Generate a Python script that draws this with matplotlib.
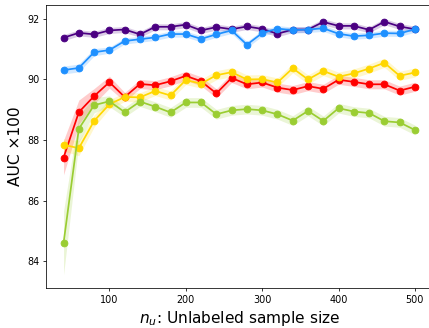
import numpy as np
import matplotlib
matplotlib.use("Agg")
import matplotlib.pyplot as plt

# unlabeled sample sizes
n_u = list(range(40, 501, 20))

# mean AUC x100 per method
auc_purple = [91.38, 91.54, 91.49, 91.62, 91.65, 91.49, 91.74, 91.74, 91.81, 91.62, 91.73, 91.66,
              91.75, 91.67, 91.51, 91.65, 91.65, 91.90, 91.77, 91.77, 91.64, 91.91, 91.75, 91.66]
auc_blue = [90.31, 90.38, 90.90, 90.97, 91.27, 91.33, 91.39, 91.50, 91.50, 91.34, 91.49, 91.62,
            91.15, 91.53, 91.68, 91.63, 91.65, 91.69, 91.51, 91.43, 91.46, 91.53, 91.52, 91.66]
auc_red = [87.42, 88.92, 89.45, 89.91, 89.42, 89.85, 89.81, 89.94, 90.12, 89.94, 89.54, 90.05,
           89.84, 89.90, 89.73, 89.65, 89.78, 89.69, 89.99, 89.92, 89.84, 89.84, 89.63, 89.76]
auc_yellow = [87.84, 87.73, 88.63, 89.18, 89.42, 89.41, 89.62, 89.47, 89.98, 89.86, 90.14, 90.24,
              90.00, 90.01, 89.90, 90.37, 90.00, 90.28, 90.09, 90.20, 90.36, 90.55, 90.12, 90.23]
auc_green = [84.60, 88.37, 89.15, 89.28, 88.92, 89.27, 89.10, 88.91, 89.24, 89.24, 88.85, 88.98,
             89.02, 88.98, 88.85, 88.64, 88.96, 88.63, 89.05, 88.94, 88.89, 88.62, 88.58, 88.33]

# spread of the shaded bands
sd_purple = [0.10] * 24
sd_blue = [0.13, 0.13, 0.12] + [0.10] * 21
sd_red = [0.57, 0.40, 0.25, 0.20] + [0.15] * 20
sd_yellow = [0.20, 0.25, 0.20, 0.15] + [0.15] * 20
sd_green = [1.05, 0.45, 0.25, 0.18] + [0.16] * 20

series = [
    (auc_purple, sd_purple, "indigo"),
    (auc_blue, sd_blue, "dodgerblue"),
    (auc_red, sd_red, "red"),
    (auc_yellow, sd_yellow, "gold"),
    (auc_green, sd_green, "yellowgreen"),
]

fig = plt.figure(figsize=(429 / 69, 328 / 69), dpi=69)
ax = fig.add_axes([46 / 429, 40 / 328, 386.5 / 429, 283 / 328])

x = np.array(n_u)
for mean, sd, col in series:
    mean = np.array(mean)
    sd = np.array(sd)
    ax.fill_between(x, mean - sd, mean + sd, color=col, alpha=0.2, linewidth=0)
    ax.plot(x, mean, "-o", color=col, lw=1.8, markersize=7)

ax.set_xlim(17, 523)
ax.set_ylim(83.11, 92.46)
ax.set_xticks([100, 200, 300, 400, 500])
ax.set_yticks([84, 86, 88, 90, 92])
ax.tick_params(labelsize=10)
ax.set_xlabel(r"$n_u$: Unlabeled sample size", fontsize=16)
ax.set_ylabel("AUC ×100", fontsize=16)

fig.savefig("out.png", dpi=69)
